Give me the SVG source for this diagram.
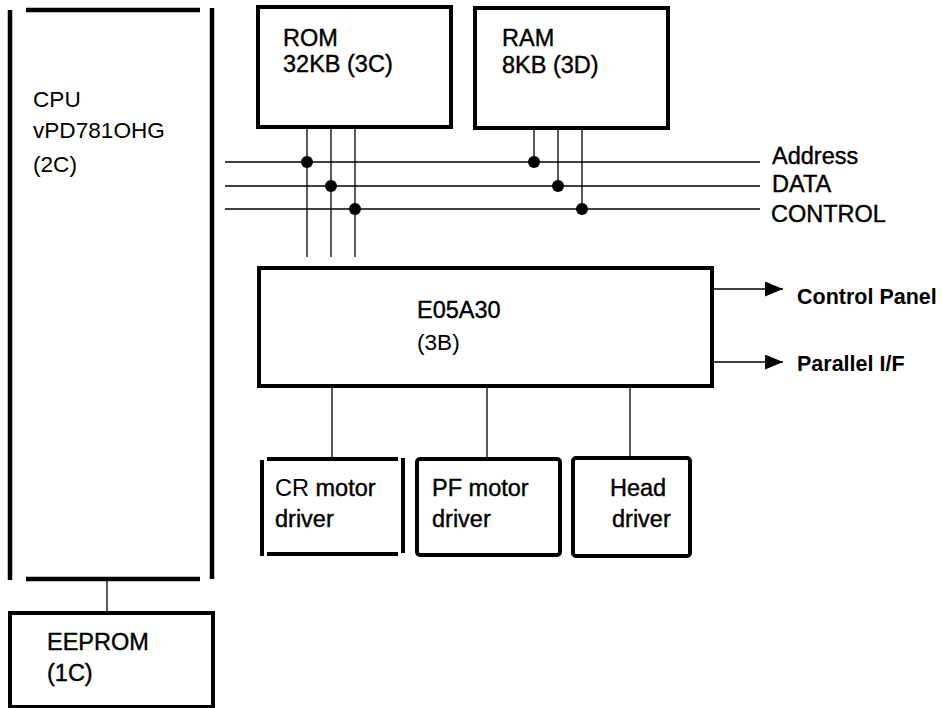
<svg xmlns="http://www.w3.org/2000/svg" width="942" height="708" viewBox="0 0 942 708">
<style>
text{font-family:"Liberation Sans",Arial,sans-serif;font-size:23.5px;fill:#000}
.c{font-size:22.6px}
.m{stroke:#000;stroke-width:0.4px}
.b{font-weight:bold;font-size:21.5px}
.thick{stroke:#000;stroke-width:4.5;fill:none}
.box{stroke:#000;stroke-width:4;fill:none}
.bus{stroke:#000;stroke-width:1.6;fill:none}
.wire{stroke:#000;stroke-width:1.3;fill:none}
.dot{fill:#000}
</style>
<defs>
<marker id="ah" markerWidth="18" markerHeight="15" refX="18" refY="7.5" orient="auto" markerUnits="userSpaceOnUse">
<path d="M0,0 L18,7.5 L0,15 Z" fill="#000"/>
</marker>
</defs>
<rect width="942" height="708" fill="#fff"/>

<g id="connectors">
<line class="bus" x1="225" y1="162" x2="760" y2="162"/>
<line class="bus" x1="225" y1="186" x2="760" y2="186"/>
<line class="bus" x1="225" y1="209" x2="760" y2="209"/>
<line class="wire" x1="307" y1="127" x2="307" y2="257"/>
<line class="wire" x1="331" y1="127" x2="331" y2="257"/>
<line class="wire" x1="355" y1="127" x2="355" y2="257"/>
<circle class="dot" cx="307" cy="162" r="6"/>
<circle class="dot" cx="331" cy="186" r="6"/>
<circle class="dot" cx="355" cy="209" r="6"/>
<line class="wire" x1="534" y1="128" x2="534" y2="162"/>
<line class="wire" x1="558" y1="128" x2="558" y2="186"/>
<line class="wire" x1="582" y1="128" x2="582" y2="209"/>
<circle class="dot" cx="534" cy="162" r="6"/>
<circle class="dot" cx="558" cy="186" r="6"/>
<circle class="dot" cx="582" cy="209" r="6"/>
<line class="wire" x1="712" y1="289" x2="783" y2="289" marker-end="url(#ah)"/>
<line class="wire" x1="712" y1="362" x2="783" y2="362" marker-end="url(#ah)"/>
<line class="wire" x1="332" y1="386" x2="332" y2="459"/>
<line class="wire" x1="487" y1="386" x2="487" y2="459"/>
<line class="wire" x1="630" y1="386" x2="630" y2="459"/>
<line class="wire" x1="107" y1="579" x2="107" y2="613"/>
</g>

<g id="bus-labels">
<text x="772" y="164" class="m">Address</text>
<text x="772" y="192" class="m">DATA</text>
<text x="771" y="222" class="m">CONTROL</text>
<text x="797" y="304" class="b">Control Panel</text>
<text x="797" y="371" class="b">Parallel I/F</text>
</g>

<g id="cpu">
<line class="thick" x1="10" y1="10" x2="10" y2="580"/>
<line class="thick" x1="26" y1="10" x2="200" y2="10"/>
<line class="thick" x1="212" y1="8" x2="212" y2="579"/>
<line class="thick" x1="26" y1="579" x2="200" y2="579"/>
<text x="33" y="107" class="c">CPU</text>
<text x="33" y="138" class="c">vPD781OHG</text>
<text x="33" y="172" class="c">(2C)</text>
</g>

<g id="rom">
<rect class="box" x="258" y="7" width="193" height="120"/>
<text x="283" y="46" class="m">ROM</text>
<text x="283" y="72" class="m">32KB (3C)</text>
</g>

<g id="ram">
<rect class="box" x="475" y="8" width="193" height="120"/>
<text x="502" y="46" class="m">RAM</text>
<text x="502" y="73" class="m">8KB (3D)</text>
</g>

<g id="e05a30">
<rect class="box" x="259" y="268" width="453" height="118"/>
<text x="417" y="318" class="m">E05A30</text>
<text x="417" y="350" class="c">(3B)</text>
</g>

<g id="cr-driver">
<line class="box" x1="262" y1="460" x2="262" y2="556"/>
<line class="box" x1="267" y1="459" x2="398" y2="459"/>
<line class="box" x1="403" y1="458" x2="403" y2="553"/>
<line class="box" x1="267" y1="554" x2="398" y2="554"/>
<text x="275" y="496">CR <tspan class="m">motor</tspan></text>
<text x="275" y="527" class="m">driver</text>
</g>

<g id="pf-driver">
<rect class="box" x="417" y="459" width="143" height="96" rx="3"/>
<text x="432" y="496" class="m">PF motor</text>
<text x="432" y="527" class="m">driver</text>
</g>

<g id="head-driver">
<rect class="box" x="573" y="458" width="117" height="98" rx="3"/>
<text x="610" y="496" class="m">Head</text>
<text x="612" y="527" class="m">driver</text>
</g>

<g id="eeprom">
<rect class="box" x="10" y="613" width="203" height="94"/>
<text x="47" y="650" class="m">EEPROM</text>
<text x="47" y="681" class="m">(1C)</text>
</g>
</svg>
